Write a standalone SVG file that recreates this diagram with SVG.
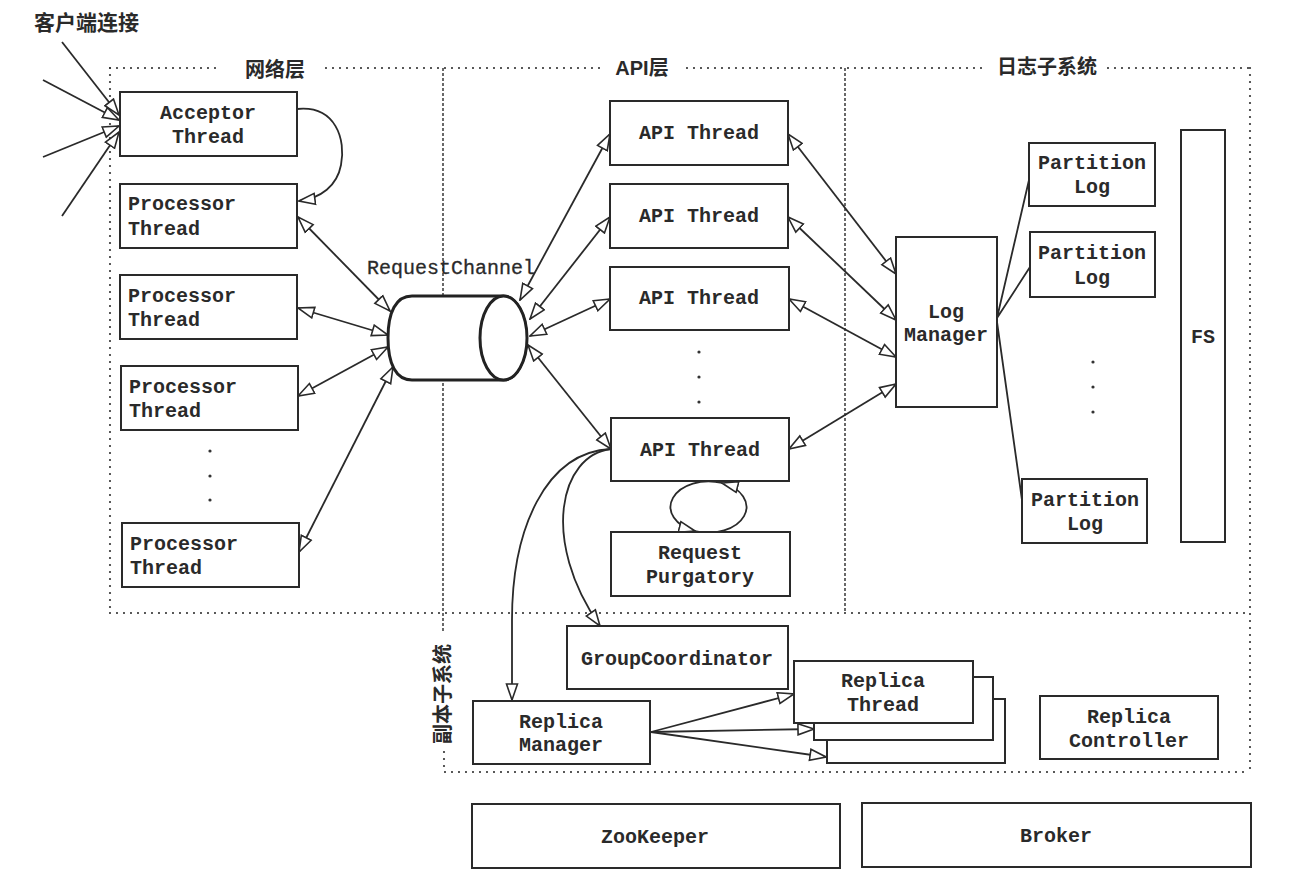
<svg xmlns="http://www.w3.org/2000/svg" width="1296" height="888" viewBox="0 0 1296 888">
<style>
.box{fill:#fff;stroke:#2a2a2a;stroke-width:2}
.t{font-family:"Liberation Mono","DejaVu Sans Mono",monospace;font-weight:bold;font-size:20px;fill:#2a2a2a}
.tn{font-family:"Liberation Mono","DejaVu Sans Mono",monospace;font-size:20px;fill:#2a2a2a;stroke:#2a2a2a;stroke-width:0.3}
.c{text-anchor:middle}
.cjk{font-family:"Liberation Sans","Noto Sans CJK SC",sans-serif;font-weight:bold;font-size:20px;fill:#2a2a2a}
.dot{fill:none;stroke:#333;stroke-width:2.2;stroke-dasharray:0 7;stroke-linecap:round}
.dash{fill:none;stroke:#444;stroke-width:1.6;stroke-dasharray:3 2}
.ln{fill:none;stroke:#2a2a2a;stroke-width:1.8}
.a2{marker-start:url(#ah);marker-end:url(#ah)}
.a1{marker-end:url(#ah)}
.pt{fill:#333}
</style>
<defs>
<marker id="ah" viewBox="0 0 18 14" refX="17" refY="7" markerWidth="18" markerHeight="14" orient="auto-start-reverse" markerUnits="userSpaceOnUse">
<path d="M1,1.5 L17,7 L1,12.5 Z" fill="#fff" stroke="#2a2a2a" stroke-width="1.6" stroke-linejoin="miter"/>
</marker>
</defs>
<rect width="1296" height="888" fill="#fff"/>

<g id="regions">
<path class="dot" d="M110 68 H220 M326 68 H600 M687 68 H982 M1108 68 H1250"/>
<path class="dot" d="M110 68 V613"/>
<path class="dot" d="M110 613 H1250"/>
<path class="dot" d="M1250 68 V772"/>
<path class="dot" d="M445 772 H1250"/>
<path class="dot" d="M444 752 V772"/>
<path class="dash" d="M443 68 V632"/>
<path class="dash" d="M845 68 V613"/>
<text class="cjk c" x="275" y="77">网络层</text>
<text class="cjk c" x="642" y="75">API层</text>
<text class="cjk c" x="1047" y="74">日志子系统</text>
<text class="cjk c" x="443" y="694" transform="rotate(-90 443 694)" dy="7">副本子系统</text>
<text class="cjk" x="34" y="30" style="font-size:21px">客户端连接</text>
</g>

<g id="connectors">
<path class="ln a1" d="M62 42 L119 115"/>
<path class="ln a1" d="M43 80 L119 120"/>
<path class="ln a1" d="M43 157 L119 126"/>
<path class="ln a1" d="M62 216 L119 132"/>
<path class="ln a1" d="M297 109 C336 105 346 140 341 165 C337 186 321 198 299 201"/>
<path class="ln a2" d="M298 217 L390 311"/>
<path class="ln a2" d="M298 308 L388 335"/>
<path class="ln a2" d="M298 396 L388 347"/>
<path class="ln a2" d="M299 552 L393 367"/>
<path class="ln a2" d="M520 300 L610 134"/>
<path class="ln a2" d="M530 319 L610 217"/>
<path class="ln a2" d="M530 336 L610 299"/>
<path class="ln a2" d="M528 345 L611 449"/>
<path class="ln a2" d="M788 134 L896 274"/>
<path class="ln a2" d="M788 217 L896 320"/>
<path class="ln a2" d="M789 299 L896 357"/>
<path class="ln a2" d="M789 449 L896 384"/>
<path class="ln" d="M997 318 L1029 180 M997 318 L1030 267 M997 322 L1022 500"/>
<path class="ln a1" d="M722 483 A37 25 0 1 0 695 531"/>
<path class="ln a1" d="M695 531 A37 25 0 0 0 722 483"/>
<path class="ln a1" d="M611 449 C545 452 512 530 512 620 L512 700"/>
<path class="ln a1" d="M611 449 C560 455 540 540 600 626"/>
<path class="ln a1" d="M651 732 L794 694"/>
<path class="ln a1" d="M651 732 L814 729"/>
<path class="ln a1" d="M651 732 L826 757"/>
</g>

<g id="acceptor">
<rect class="box" x="120" y="92" width="177" height="64"/>
<text class="t c" x="208" y="119">Acceptor</text>
<text class="t c" x="208" y="143">Thread</text>
</g>
<g id="processor1">
<rect class="box" x="120" y="184" width="177" height="64"/>
<text class="t" x="128" y="210">Processor</text>
<text class="t" x="128" y="235">Thread</text>
</g>
<g id="processor2">
<rect class="box" x="120" y="275" width="177" height="64"/>
<text class="t" x="128" y="302">Processor</text>
<text class="t" x="128" y="326">Thread</text>
</g>
<g id="processor3">
<rect class="box" x="121" y="366" width="177" height="64"/>
<text class="t" x="129" y="393">Processor</text>
<text class="t" x="129" y="417">Thread</text>
</g>
<g id="proc-dots">
<circle class="pt" cx="210" cy="451" r="1.6"/>
<circle class="pt" cx="210" cy="476" r="1.6"/>
<circle class="pt" cx="210" cy="500" r="1.6"/>
</g>
<g id="processor4">
<rect class="box" x="122" y="523" width="177" height="64"/>
<text class="t" x="130" y="550">Processor</text>
<text class="t" x="130" y="574">Thread</text>
</g>

<g id="requestchannel">
<path d="M412 296 L503 296 A23.5 42 0 0 1 503 380 L412 380 C396 380 388 364 388 338 C388 312 396 296 412 296 Z" fill="#fff" stroke="#222" stroke-width="3"/>
<ellipse cx="503.5" cy="338" rx="23.5" ry="42" fill="#fff" stroke="#222" stroke-width="3"/>
<text class="tn" x="367" y="274">RequestChannel</text>
</g>

<g id="api1">
<rect class="box" x="610" y="101" width="178" height="64"/>
<text class="t c" x="699" y="139">API Thread</text>
</g>
<g id="api2">
<rect class="box" x="610" y="184" width="178" height="64"/>
<text class="t c" x="699" y="222">API Thread</text>
</g>
<g id="api3">
<rect class="box" x="610" y="267" width="179" height="63"/>
<text class="t c" x="699" y="304">API Thread</text>
</g>
<g id="api-dots">
<circle class="pt" cx="699" cy="352" r="1.6"/>
<circle class="pt" cx="699" cy="377" r="1.6"/>
<circle class="pt" cx="699" cy="402" r="1.6"/>
</g>
<g id="api4">
<rect class="box" x="611" y="418" width="178" height="63"/>
<text class="t c" x="700" y="456">API Thread</text>
</g>
<g id="purgatory">
<rect class="box" x="611" y="532" width="179" height="64"/>
<text class="t c" x="700" y="559">Request</text>
<text class="t c" x="700" y="583">Purgatory</text>
</g>

<g id="logmanager">
<rect class="box" x="896" y="237" width="101" height="170"/>
<text class="t c" x="946" y="318">Log</text>
<text class="t c" x="946" y="341">Manager</text>
</g>
<g id="partition1">
<rect class="box" x="1029" y="143" width="126" height="63"/>
<text class="t c" x="1092" y="169">Partition</text>
<text class="t c" x="1092" y="193">Log</text>
</g>
<g id="partition2">
<rect class="box" x="1030" y="232" width="125" height="65"/>
<text class="t c" x="1092" y="259">Partition</text>
<text class="t c" x="1092" y="284">Log</text>
</g>
<g id="log-dots">
<circle class="pt" cx="1093" cy="362" r="1.6"/>
<circle class="pt" cx="1093" cy="387" r="1.6"/>
<circle class="pt" cx="1093" cy="412" r="1.6"/>
</g>
<g id="partition3">
<rect class="box" x="1022" y="479" width="125" height="64"/>
<text class="t c" x="1085" y="506">Partition</text>
<text class="t c" x="1085" y="530">Log</text>
</g>
<g id="fs">
<rect class="box" x="1181" y="130" width="44" height="412"/>
<text class="t c" x="1203" y="343">FS</text>
</g>

<g id="groupcoordinator">
<rect class="box" x="567" y="626" width="221" height="63"/>
<text class="t c" x="677" y="665">GroupCoordinator</text>
</g>
<g id="replicamanager">
<rect class="box" x="473" y="701" width="177" height="63"/>
<text class="t c" x="561" y="728">Replica</text>
<text class="t c" x="561" y="751">Manager</text>
</g>
<g id="replicathread">
<rect class="box" x="827" y="699" width="178" height="64"/>
<rect class="box" x="814" y="677" width="179" height="63"/>
<rect class="box" x="794" y="661" width="179" height="62"/>
<text class="t c" x="883" y="687">Replica</text>
<text class="t c" x="883" y="711">Thread</text>
</g>
<g id="replicacontroller">
<rect class="box" x="1040" y="696" width="178" height="63"/>
<text class="t c" x="1129" y="723">Replica</text>
<text class="t c" x="1129" y="747">Controller</text>
</g>

<g id="zookeeper">
<rect class="box" x="472" y="804" width="368" height="64"/>
<text class="t c" x="655" y="843">ZooKeeper</text>
</g>
<g id="broker">
<rect class="box" x="862" y="803" width="389" height="64"/>
<text class="t c" x="1056" y="842">Broker</text>
</g>
</svg>
